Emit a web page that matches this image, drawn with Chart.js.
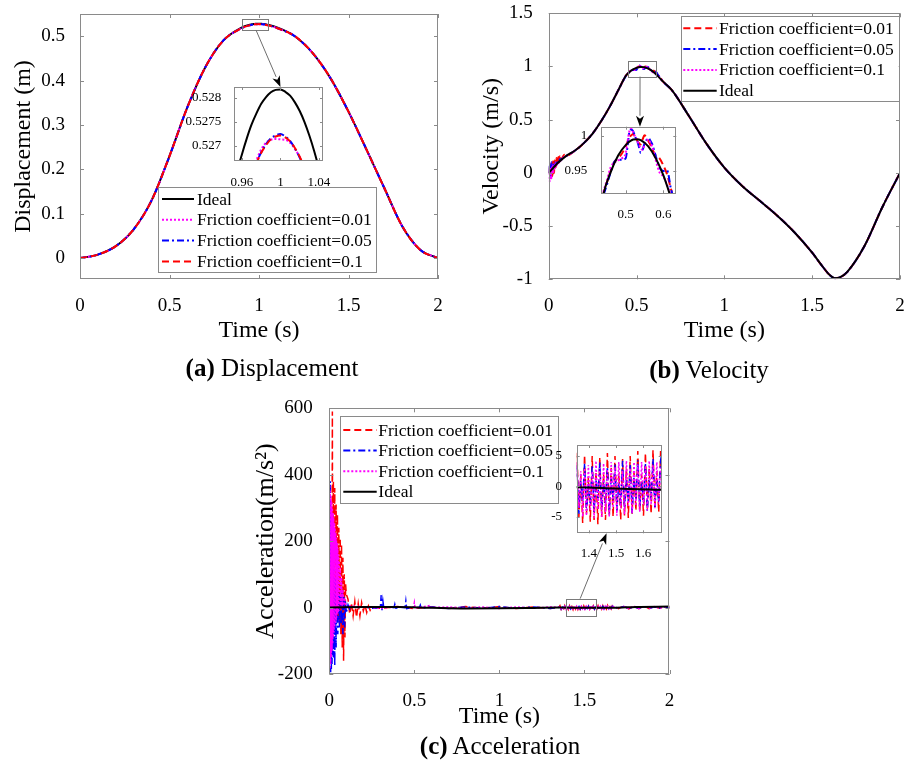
<!DOCTYPE html>
<html lang="en">
<head>
<meta charset="UTF-8">
<title>Displacement, velocity and acceleration with friction</title>
<script src="https://cdn.jsdelivr.net/npm/chart.js"></script>
<style>
  * { box-sizing: border-box; margin: 0; padding: 0; }
  body { position: relative; width: 914px; height: 764px; overflow: hidden; background: #fff; color: #000;
         font-family: "Liberation Serif", "Times New Roman", Times, serif; }
  canvas { position: absolute; }
  .caption { position: absolute; font-size: 25px; line-height: 1; white-space: nowrap; transform: translate(-50%, -50%); }
  #overlay { pointer-events: none; }
</style>
</head>
<body>
<canvas id="dispChart" width="450" height="345" style="left:0;top:0"></canvas>
<canvas id="dispInset" width="152" height="114" style="left:186px;top:82px"></canvas>
<canvas id="velChart" width="464" height="345" style="left:450px;top:0"></canvas>
<canvas id="velInset" width="122" height="106" style="left:560px;top:121px"></canvas>
<canvas id="accChart" width="450" height="340" style="left:230px;top:395px"></canvas>
<canvas id="accInset" width="117" height="125" style="left:550px;top:440px"></canvas>
<canvas id="overlay" width="914" height="764" style="left:0;top:0"></canvas>
<div class="caption" style="left:272px;top:367px"><b>(a)</b> Displacement</div>
<div class="caption" style="left:709px;top:369px"><b>(b)</b> Velocity</div>
<div class="caption" style="left:500px;top:745px"><b>(c)</b> Acceleration</div>

<script>
// ---- (a) displacement, ideal curve (fine steps near the peak for the inset)
const dispTime = [0, 0.1, 0.2, 0.3, 0.4, 0.5, 0.6, 0.7, 0.8, 0.9,
  0.955, 0.96, 0.965, 0.97, 0.975, 0.98, 0.985, 0.99, 0.995, 1.0, 1.005, 1.01, 1.015, 1.02, 1.025, 1.03, 1.035, 1.04, 1.045,
  1.1, 1.2, 1.3, 1.4, 1.5, 1.6, 1.7, 1.8, 1.9, 2.0];
const dispIdeal = [0, 0.008, 0.027, 0.065, 0.130, 0.230, 0.340, 0.430, 0.490, 0.519,
  0.52644, 0.52682, 0.52715, 0.52744, 0.52767, 0.52787, 0.52801, 0.52811, 0.52816, 0.52817, 0.52812, 0.52804, 0.52790, 0.52772, 0.52749, 0.52721, 0.52689, 0.52652, 0.52610,
  0.520, 0.500, 0.462, 0.405, 0.330, 0.245, 0.158, 0.072, 0.019, 0];
// friction runs only differ from the ideal around the peak
const dispFricT = [0.9, 0.94, 0.965, 0.97, 0.975, 0.98, 0.985, 0.99, 0.995, 1.0, 1.005, 1.01, 1.015, 1.02, 1.025, 1.03, 1.06, 1.1];
const dispFric001 = [0.5174, 0.52373, 0.52610, 0.52642, 0.52670, 0.52692, 0.52706, 0.52712, 0.52714, 0.52713, 0.52712, 0.52706, 0.52693, 0.52676, 0.52652, 0.52624, 0.52349, 0.5185];
const dispFric005 = [0.5174, 0.52373, 0.52603, 0.52636, 0.52664, 0.52686, 0.52703, 0.52715, 0.52721, 0.52724, 0.52719, 0.52710, 0.52694, 0.52675, 0.52651, 0.52623, 0.52349, 0.5185];
const dispFric01 = [0.5174, 0.52373, 0.52605, 0.52637, 0.52663, 0.52685, 0.52701, 0.52713, 0.52719, 0.52721, 0.52717, 0.52709, 0.52695, 0.52677, 0.52653, 0.52625, 0.52349, 0.5185];

// ---- (b) velocity
const velTime = [0, 0.05, 0.1, 0.15, 0.2, 0.25, 0.3, 0.35, 0.4,
  0.44, 0.46, 0.48, 0.5, 0.52, 0.53, 0.54, 0.56, 0.58, 0.6, 0.62,
  0.65, 0.7, 0.8, 0.9, 1.0, 1.1, 1.2, 1.3, 1.4, 1.5, 1.55, 1.6, 1.63, 1.66, 1.7, 1.8, 1.9, 2.0];
const velIdeal = [0, 0.09, 0.16, 0.21, 0.28, 0.37, 0.49, 0.63, 0.79,
  0.915, 0.948, 0.972, 0.987, 0.995, 0.9955, 0.994, 0.985, 0.968, 0.944, 0.912,
  0.86, 0.78, 0.53, 0.27, 0.05, -0.12, -0.26, -0.40, -0.56, -0.75, -0.86, -0.96, -0.99, -0.98, -0.93, -0.68, -0.32, 0];
// start-up chatter
const velStartT = [0, 0.005, 0.01, 0.015, 0.02, 0.025, 0.03, 0.035, 0.04, 0.045, 0.05, 0.055, 0.06, 0.065, 0.07, 0.08, 0.09];
const velStart001 = [0, 0.06, -0.07, 0.09, -0.05, 0.11, 0.0, 0.12, 0.05, 0.14, 0.07, 0.15, 0.10, 0.16, 0.12, 0.15, 0.17];
const velStart005 = [0, 0.08, -0.04, 0.10, 0.02, 0.08, 0.05, 0.10, 0.07, 0.11, 0.09, 0.12, 0.11, 0.13, 0.12, 0.14, 0.15];
const velStart01 = [0, -0.08, 0.05, -0.06, 0.07, 0.0, 0.08, 0.04, 0.09, 0.07, 0.10, 0.09, 0.11, 0.11, 0.12, 0.14, 0.15];
// ripple around the peak (seen in the inset)
const velPeakT = [0.44, 0.45, 0.46, 0.47, 0.48, 0.49, 0.50, 0.505, 0.51, 0.515, 0.52, 0.525, 0.53, 0.535, 0.54, 0.545, 0.55, 0.555, 0.56, 0.565, 0.57, 0.58, 0.59, 0.60, 0.61, 0.62, 0.63];
const velPeak001 = [0.915, 0.933, 0.950, 0.963, 0.968, 0.975, 0.985, 0.992, 0.998, 1.001, 1.003, 0.999, 0.994, 0.990, 0.988, 0.995, 1.001, 0.998, 0.993, 0.988, 0.982, 0.972, 0.968, 0.958, 0.945, 0.925, 0.905];
const velPeak005 = [0.912, 0.930, 0.948, 0.963, 0.966, 0.966, 0.968, 0.985, 1.006, 1.009, 1.007, 0.999, 0.994, 0.985, 0.976, 0.980, 0.989, 0.994, 0.997, 0.994, 0.989, 0.971, 0.955, 0.950, 0.951, 0.925, 0.905];
const velPeak01 = [0.918, 0.936, 0.955, 0.962, 0.965, 0.968, 0.975, 0.992, 1.007, 1.011, 1.005, 0.999, 0.995, 0.988, 0.983, 0.980, 0.988, 0.993, 0.995, 0.991, 0.985, 0.965, 0.948, 0.942, 0.930, 0.915, 0.900];

// ---- (c) acceleration
const accIdealT = [0, 0.2, 0.4, 0.6, 0.8, 1.0, 1.2, 1.35, 1.5, 1.67, 1.8, 2.0];
const accIdeal = [0.5, 1.5, 2.0, -0.5, -2.5, -2.0, -1.0, -0.15, -0.35, -0.55, 2.0, 3.0];
const acc001T = [0, 0.004, 0.008, 0.012, 0.016, 0.018, 0.02, 0.024, 0.028, 0.032, 0.036, 0.04, 0.044, 0.048, 0.052, 0.056, 0.06, 0.064, 0.068, 0.072, 0.076, 0.08, 0.084, 0.088, 0.092, 0.096, 0.1,
  0.11, 0.12, 0.13, 0.14, 0.15, 0.16, 0.17, 0.18, 0.19, 0.2, 0.21, 0.22, 0.23, 0.24, 0.25,
  0.3, 0.4, 0.5, 0.6, 0.7, 0.8, 0.9, 1.0, 1.1, 1.2, 1.3, 1.35];
const acc001 = [0, 150, -40, 300, 100, 590, -50, 380, -40, 360, -30, 310, -40, 280, -30, 240, -50, 210, -80, 190, -120, 150, -160, 100, -90, 70, 40,
  25, -20, 15, -25, 18, -30, 12, -25, 15, -10, 8, -15, 5, -8, 2,
  -2, 3, -3, 2, -3, 3, -2, 3, -3, 2, -3, 1];
const acc005T = [0, 0.002, 0.004, 0.006, 0.008, 0.01, 0.012, 0.014, 0.016, 0.02, 0.024, 0.028, 0.032, 0.036, 0.04, 0.045, 0.05, 0.055, 0.06, 0.065, 0.07, 0.075, 0.08, 0.085, 0.09, 0.095, 0.1, 0.11, 0.12, 0.14, 0.16,
  0.2, 0.25, 0.3, 0.305, 0.31, 0.315, 0.32, 0.35, 0.38, 0.385, 0.39, 0.42, 0.445, 0.45, 0.455, 0.5, 0.53, 0.535, 0.54, 0.6, 0.7, 0.8, 0.9, 1.0, 1.1, 1.2, 1.3, 1.35];
const acc005 = [0, 200, -100, 380, -195, 300, -185, 250, -170, 180, -150, 120, -175, 90, -120, 60, -80, 45, -60, 40, -50, 45, -80, 35, -60, 20, -15, 8, -5, 3, 0,
  2, -2, 0, 38, -8, 20, 0, 2, 0, 10, -2, 1, 0, 20, -3, 2, 0, 7, -2, 2, -3, 2, -2, 3, -2, 2, -3, 1];
const acc01T = [0, 0.002, 0.004, 0.006, 0.008, 0.01, 0.012, 0.014, 0.016, 0.018, 0.02, 0.022, 0.024, 0.026, 0.028, 0.03, 0.032, 0.034, 0.036, 0.038, 0.04, 0.042, 0.044, 0.046, 0.048, 0.05, 0.052, 0.054, 0.056, 0.058, 0.06,
  0.064, 0.068, 0.072, 0.076, 0.08, 0.085, 0.09, 0.1, 0.12,
  0.2, 0.3, 0.4, 0.495, 0.5, 0.505, 0.59, 0.595, 0.7, 0.8, 0.9, 1.0, 1.1, 1.2, 1.3, 1.35];
const acc01 = [0, 370, -185, 350, -170, 335, -150, 320, -130, 300, -110, 285, -90, 270, -75, 255, -60, 240, -50, 225, -40, 210, -30, 195, -20, 180, -15, 160, -10, 140, -5,
  120, 0, 90, 0, 55, 0, 30, 0, 5,
  2, -2, 2, 0, 15, -2, 6, 0, 2, -2, 2, -3, 2, -2, 2, 1];
// steady oscillation shown in the inset
const accZoomT = [1.356, 1.363, 1.370, 1.377, 1.384, 1.391, 1.398, 1.405, 1.412, 1.419, 1.426, 1.433, 1.440, 1.447, 1.454,
  1.461, 1.468, 1.475, 1.482, 1.489, 1.496, 1.503, 1.510, 1.517, 1.524, 1.531, 1.538, 1.545, 1.552, 1.559,
  1.566, 1.573, 1.580, 1.587, 1.594, 1.601, 1.608, 1.615, 1.622, 1.629, 1.636, 1.643, 1.650, 1.657, 1.664];
const accZoom001 = [5.5, -5.0, 2.0, -6.0, 5.2, -4.5, 1.5, -5.8, 5.0, -5.5, 2.5, -6.2, 4.8, -5.0, 2.0, -5.5, 5.5, -4.8, 3.0, -5.0, 5.0, -4.0, 2.2, -5.5,
  4.5, -4.8, 3.0, -5.2, 5.0, -4.5, 2.5, -4.0, 5.8, -4.2, 2.0, -4.8, 5.5, -3.8, 3.0, -4.5, 6.0, -3.5, 2.5, -4.2, 5.8];
const accZoom005 = [3.5, -4.5, 1.0, -2.5, 3.8, -4.0, 0.5, -3.0, 3.5, -4.2, 1.2, -2.0, 4.0, -3.8, 0.8, -2.8, 3.2, -4.5, 1.5, -2.2, 3.6, -4.0, 0.6, -3.0,
  4.2, -3.6, 1.0, -2.4, 3.5, -4.4, 1.4, -2.0, 4.3, -3.5, 0.8, -2.6, 3.8, -4.0, 1.2, -2.2, 4.5, -3.4, 1.0, -2.5, 4.2];
const accZoom01 = [4.0, -3.5, 2.5, -5.0, 3.0, -4.8, 3.5, -4.0, 2.5, -5.2, 4.2, -3.8, 3.0, -5.0, 3.8, -4.2, 2.8, -5.0, 4.0, -3.5, 3.2, -4.8, 4.0, -3.6,
  2.6, -4.6, 4.2, -3.2, 3.0, -4.4, 4.0, -3.2, 3.6, -4.2, 4.0, -3.0, 3.4, -4.0, 4.2, -3.0, 3.5, -3.6, 4.0, -2.8, 3.0];
const accTailT = [1.67, 1.7, 1.73, 1.76, 1.79, 1.82, 1.85, 1.88, 1.91, 1.94, 1.97, 2.0];
const accTail001 = [4, -3, 5, -4, 4, -3, 5, -3, 4, -2, 3, 0];
const accTail005 = [3, -2, 3, -3, 2, -2, 3, -2, 2, -1, 2, 0];
const accTail01 = [3, -3, 4, -3, 5, -3, 4, -2, 3, -2, 2, 0];

// ---- tick labels
const dispXTicks = [0, 0.5, 1, 1.5, 2];
const dispYTicks = [0, 0.1, 0.2, 0.3, 0.4, 0.5];
const dispInsetXTicks = [0.96, 1, 1.04];
const dispInsetYTicks = [0.527, 0.5275, 0.528];
const velXTicks = [0, 0.5, 1, 1.5, 2];
const velYTicks = [-1, -0.5, 0, 0.5, 1, 1.5];
const velInsetXTicks = [0.5, 0.6];
const velInsetYTicks = [0.95, 1];
const accXTicks = [0, 0.5, 1, 1.5, 2];
const accYTicks = [-200, 0, 200, 400, 600];
const accInsetXTicks = [1.4, 1.5, 1.6];
const accInsetYTicks = [-5, 0, 5];

Chart.defaults.font.family = '"Liberation Serif", "Times New Roman", Times, serif';
Chart.defaults.color = '#000';

const RED = '#ff0000', BLUE = '#0000ff', MAGENTA = '#ff00ff', BLACK = '#000000', FRAME = '#8a8a8a';
const DASH = [7, 4], DASHDOT = [7, 3, 2, 3], DOT = [2, 2];

function pts(t, v) { return t.map((x, i) => ({ x: x, y: v[i] })); }
function joinSeries(parts) { return parts.reduce((all, p) => all.concat(pts(p[0], p[1])), []); }
function pick(t, v, keep) {
  const out = [[], []];
  t.forEach((x, i) => { if (keep(x)) { out[0].push(x); out[1].push(v[i]); } });
  return out;
}

function line(label, data, color, dash, order, width, smooth) {
  return {
    label: label, data: data, borderColor: color, backgroundColor: color, borderDash: dash,
    borderWidth: width, pointRadius: 0, pointHoverRadius: 0, fill: false, order: order, clip: 0,
    tension: 0, cubicInterpolationMode: smooth ? 'monotone' : 'default'
  };
}

function axis(o) {
  return {
    type: 'linear', min: o.min, max: o.max,
    grid: { display: false }, border: { display: false },
    ticks: { font: { size: o.font }, padding: o.pad, color: '#000', autoSkip: false, maxRotation: 0, minRotation: 0,
             callback: v => String(v) },
    title: o.title ? { display: true, text: o.title, color: '#000', font: { size: o.titleSize }, padding: o.titlePad }
                   : { display: false },
    afterBuildTicks: s => { s.ticks = o.ticks.map(v => ({ value: v })); },
    afterFit: s => {
      if (s.isHorizontal()) s.height = o.size; else s.width = o.size;
      s.paddingLeft = s.paddingRight = s.paddingTop = s.paddingBottom = 0;
    }
  };
}

// MATLAB-like box with inward ticks on all four sides, plus the zoom rectangle
const frame = {
  id: 'frame',
  beforeDatasetsDraw(chart, args, o) {
    if (!o.fill) return;
    const a = chart.chartArea, ctx = chart.ctx;
    ctx.save();
    ctx.fillStyle = '#fff';
    ctx.fillRect(a.left, a.top, a.width, a.height);
    ctx.restore();
  },
  afterDatasetsDraw(chart, args, o) {
    const { ctx, chartArea: a, scales: { x, y } } = chart;
    const len = o.tick || 4;
    ctx.save();
    ctx.strokeStyle = FRAME;
    ctx.lineWidth = 1;
    ctx.beginPath();
    x.ticks.forEach(t => {
      const p = Math.round(x.getPixelForValue(t.value)) + 0.5;
      ctx.moveTo(p, a.bottom); ctx.lineTo(p, a.bottom - len);
      ctx.moveTo(p, a.top); ctx.lineTo(p, a.top + len);
    });
    y.ticks.forEach(t => {
      const p = Math.round(y.getPixelForValue(t.value)) + 0.5;
      ctx.moveTo(a.left, p); ctx.lineTo(a.left + len, p);
      ctx.moveTo(a.right, p); ctx.lineTo(a.right - len, p);
    });
    ctx.stroke();
    ctx.strokeRect(Math.round(a.left) + 0.5, Math.round(a.top) + 0.5, Math.round(a.width) - 1, Math.round(a.height) - 1);
    if (o.zoom) {
      const z = o.zoom;
      const x0 = x.getPixelForValue(z[0]), x1 = x.getPixelForValue(z[1]);
      const y0 = y.getPixelForValue(z[3]), y1 = y.getPixelForValue(z[2]);
      ctx.strokeStyle = '#7a7a7a';
      ctx.strokeRect(Math.round(x0) + 0.5, Math.round(y0) + 0.5, Math.round(x1 - x0), Math.round(y1 - y0));
    }
    ctx.restore();
  }
};

// boxed legend placed inside the axes
const boxLegend = {
  id: 'boxLegend',
  afterDraw(chart, args, o) {
    if (!o.items) return;
    const ctx = chart.ctx, b = o.box;
    ctx.save();
    ctx.fillStyle = '#fff';
    ctx.fillRect(b[0], b[1], b[2], b[3]);
    ctx.strokeStyle = FRAME;
    ctx.lineWidth = 1;
    ctx.strokeRect(Math.round(b[0]) + 0.5, Math.round(b[1]) + 0.5, Math.round(b[2]), Math.round(b[3]));
    ctx.font = o.size + 'px "Liberation Serif", "Times New Roman", serif';
    ctx.textBaseline = 'middle';
    o.items.forEach((di, i) => {
      const ds = chart.data.datasets[di];
      const yy = o.row0 + i * o.step;
      ctx.strokeStyle = ds.borderColor;
      ctx.lineWidth = 2;
      ctx.setLineDash(ds.borderDash || []);
      ctx.beginPath(); ctx.moveTo(o.sample[0], yy); ctx.lineTo(o.sample[1], yy); ctx.stroke();
      ctx.setLineDash([]);
      ctx.fillStyle = '#000';
      ctx.fillText(ds.label, o.textX, yy + 1);
    });
    ctx.restore();
  }
};

function makeChart(id, datasets, xs, ys, pad, frameOpts, legendOpts) {
  return new Chart(document.getElementById(id), {
    type: 'line',
    data: { datasets: datasets },
    options: {
      responsive: false, animation: false, events: [],
      layout: { padding: pad },
      scales: { x: xs, y: ys },
      plugins: { legend: { display: false }, tooltip: { enabled: false }, frame: frameOpts, boxLegend: legendOpts || {} }
    },
    plugins: [frame, boxLegend]
  });
}

// ---------- datasets
function dispSets(w) {
  const fric = v => joinSeries([pick(dispTime, dispIdeal, t => t < 0.9), [dispFricT, v], pick(dispTime, dispIdeal, t => t > 1.1)]);
  return [
    line('Ideal', pts(dispTime, dispIdeal), BLACK, [], 3, w, true),
    line('Friction coefficient=0.01', fric(dispFric001), MAGENTA, DOT, 2, w, true),
    line('Friction coefficient=0.05', fric(dispFric005), BLUE, DASHDOT, 1, w, true),
    line('Friction coefficient=0.1', fric(dispFric01), RED, DASH, 0, w, true)
  ];
}
function velSets(w) {
  const fric = (s, p) => joinSeries([[velStartT, s], pick(velTime, velIdeal, t => t >= 0.1 && t < 0.44), [velPeakT, p], pick(velTime, velIdeal, t => t > 0.63)]);
  return [
    line('Friction coefficient=0.01', fric(velStart001, velPeak001), RED, DASH, 3, w, true),
    line('Friction coefficient=0.05', fric(velStart005, velPeak005), BLUE, DASHDOT, 2, w, true),
    line('Friction coefficient=0.1', fric(velStart01, velPeak01), MAGENTA, DOT, 1, w, true),
    line('Ideal', pts(velTime, velIdeal), BLACK, [], 0, w, true)
  ];
}
function accSets(w) {
  return [
    line('Friction coefficient=0.01', joinSeries([[acc001T, acc001], [accZoomT, accZoom001], [accTailT, accTail001]]), RED, DASH, 3, w, false),
    line('Friction coefficient=0.05', joinSeries([[acc005T, acc005], [accZoomT, accZoom005], [accTailT, accTail005]]), BLUE, DASHDOT, 2, w, false),
    line('Friction coefficient=0.1', joinSeries([[acc01T, acc01], [accZoomT, accZoom01], [accTailT, accTail01]]), MAGENTA, DOT, 1, w, false),
    line('Ideal', pts(accIdealT, accIdeal), BLACK, [], 0, w + 0.5, true)
  ];
}

// ---------- (a)
const dispChart = makeChart('dispChart', dispSets(2),
  axis({ min: 0, max: 2, ticks: dispXTicks, size: 66, font: 19, pad: 7.5, title: 'Time (s)', titleSize: 24, titlePad: { top: 0, bottom: 0 } }),
  axis({ min: -0.047, max: 0.55, ticks: dispYTicks, size: 80, font: 19, pad: 7, title: 'Displacement (m)', titleSize: 24, titlePad: { top: 9.6, bottom: 0 } }),
  { left: 0, top: 14, right: 12, bottom: 0 },
  { tick: 4, zoom: [0.907, 1.052, 0.514, 0.538] },
  { box: [158, 187, 218, 85], row0: 199, step: 20.8, sample: [162, 194], textX: 197, size: 17.5, items: [0, 1, 2, 3] });

const dispInsetChart = makeChart('dispInset', dispSets(2),
  axis({ min: 0.9517, max: 1.0442, ticks: dispInsetXTicks, size: 35, font: 13, pad: 5.5 }),
  axis({ min: 0.52668, max: 0.52822, ticks: dispInsetYTicks, size: 48, font: 13, pad: 4.7 }),
  { left: 0, top: 5, right: 15, bottom: 0 },
  { tick: 3, fill: true });

// ---------- (b)
const velChart = makeChart('velChart', velSets(2),
  axis({ min: 0, max: 2, ticks: velXTicks, size: 65.7, font: 19, pad: 7.5, title: 'Time (s)', titleSize: 24, titlePad: { top: 0, bottom: 0 } }),
  axis({ min: -1, max: 1.5, ticks: velYTicks, size: 98.7, font: 19, pad: 8, title: 'Velocity (m/s)', titleSize: 24, titlePad: { top: 27.6, bottom: 0 } }),
  { left: 0, top: 13.3, right: 14, bottom: 0 },
  { tick: 4, zoom: [0.45, 0.61, 0.905, 1.052] },
  { box: [230.7, 16, 218, 85], row0: 28.3, step: 20.8, sample: [233.3, 266.7], textX: 269, size: 17.5, items: [0, 1, 2, 3] });

const velInsetChart = makeChart('velInset', velSets(2),
  axis({ min: 0.4345, max: 0.6345, ticks: velInsetXTicks, size: 33.7, font: 13, pad: 5.6 }),
  axis({ min: 0.918, max: 1.0133, ticks: velInsetYTicks, size: 41, font: 13, pad: 5.7 }),
  { left: 0, top: 5.7, right: 5.7, bottom: 0 },
  { tick: 3, fill: true });

// ---------- (c)
const accChart = makeChart('accChart', accSets(1.5),
  axis({ min: 0, max: 2, ticks: accXTicks, size: 61, font: 19, pad: 7.6, title: 'Time (s)', titleSize: 24, titlePad: { top: 0, bottom: 3.6 } }),
  axis({ min: -200, max: 600, ticks: accYTicks, size: 99.3, font: 19, pad: 8.6, title: 'Acceleration(m/s²)', titleSize: 26, titlePad: { top: 20.4, bottom: 0 } }),
  { left: 0, top: 13.3, right: 10.5, bottom: 0 },
  { tick: 4, zoom: [1.39, 1.565, -23, 27] },
  { box: [110, 21, 218.3, 87.3], row0: 35, step: 20.6, sample: [113.3, 146.7], textX: 148.3, size: 17.5, items: [0, 1, 2, 3] });

const accInsetChart = makeChart('accInset', accSets(1.5),
  axis({ min: 1.355, max: 1.668, ticks: accInsetXTicks, size: 31.7, font: 13, pad: 4.6 }),
  axis({ min: -7.7, max: 6.8, ticks: accInsetYTicks, size: 26.7, font: 13, pad: 6.7 }),
  { left: 0, top: 5, right: 5.3, bottom: 0 },
  { tick: 3, fill: true });

// ---------- arrows from the zoom boxes to the insets
function pageXY(chart, xv, yv) {
  const r = chart.canvas.getBoundingClientRect();
  return [r.left + chart.scales.x.getPixelForValue(xv), r.top + chart.scales.y.getPixelForValue(yv)];
}
function drawArrow(ctx, from, to) {
  const ang = Math.atan2(to[1] - from[1], to[0] - from[0]);
  const L = 11, W = 4;
  const bx = to[0] - L * Math.cos(ang), by = to[1] - L * Math.sin(ang);
  ctx.save();
  ctx.strokeStyle = '#6e6e6e';
  ctx.lineWidth = 1;
  ctx.beginPath(); ctx.moveTo(from[0], from[1]); ctx.lineTo(bx, by); ctx.stroke();
  ctx.fillStyle = '#000';
  ctx.beginPath();
  ctx.moveTo(to[0], to[1]);
  ctx.lineTo(bx + W * Math.sin(ang), by - W * Math.cos(ang));
  ctx.lineTo(to[0] - (L - 3) * Math.cos(ang), to[1] - (L - 3) * Math.sin(ang));
  ctx.lineTo(bx - W * Math.sin(ang), by + W * Math.cos(ang));
  ctx.closePath();
  ctx.fill();
  ctx.restore();
}
const ov = document.getElementById('overlay').getContext('2d');
drawArrow(ov, pageXY(dispChart, 0.983, 0.514), pageXY(dispInsetChart, 1.0, dispInsetChart.scales.y.max));
drawArrow(ov, pageXY(velChart, 0.52, 0.905), pageXY(velInsetChart, 0.538, velInsetChart.scales.y.max));
drawArrow(ov, pageXY(accChart, 1.475, 27), pageXY(accInsetChart, 1.465, accInsetChart.scales.y.min));
</script>
</body>
</html>
